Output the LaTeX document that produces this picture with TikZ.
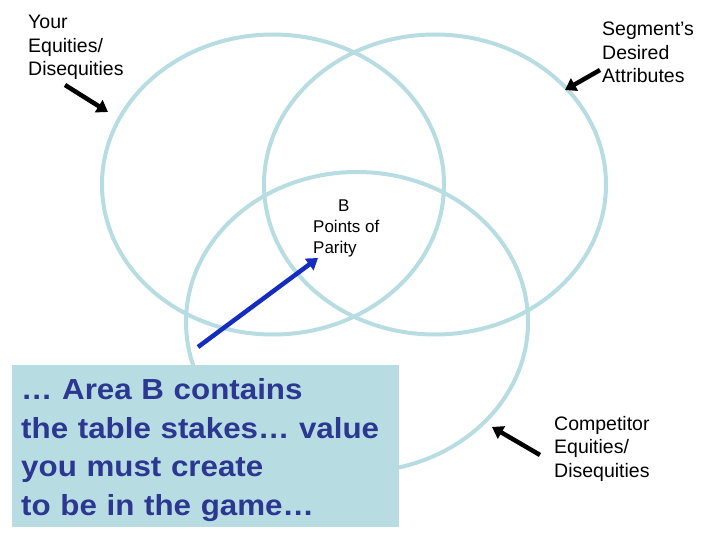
\documentclass[tikz,border=0pt]{standalone}
\usepackage{fontspec}
\setmainfont{Liberation Sans}
\newfontfamily\notefont[FakeStretch=1.08]{Liberation Sans}
\usetikzlibrary{arrows.meta, shapes.geometric}
\definecolor{vennblue}{RGB}{183,221,226}
\definecolor{notenavy}{RGB}{43,55,145}
\definecolor{pointblue}{RGB}{20,45,190}

\begin{document}
\begin{tikzpicture}[x=1pt, y=-1pt,
        venn/.style={ellipse, draw=vennblue, line width=4pt, minimum width=342pt, minimum height=300pt, inner sep=0pt},
        tagtext/.style={anchor=north west, inner sep=0pt, align=left, font=\fontsize{19.5}{23.5}\selectfont},
        pointer/.style={-{Triangle[length=11pt, width=14pt]}, line width=4.5pt},
        notebox/.style={anchor=north west, fill=vennblue, text=notenavy, align=left, text width=369pt, inner xsep=9pt, inner ysep=0pt, minimum width=387pt, minimum height=162pt, font=\notefont\bfseries\fontsize{29}{38.5}\selectfont},
    ]
        \useasboundingbox (0,0) rectangle (720,540);

        % Venn circles
        \node[venn] (yours) at (273,184.5) {};
        \node[venn] (segment) at (435,184.5) {};
        \node[venn] (rival) at (357,322) {};

        % Note box
        \node[notebox] (note) at (12,365) {\rule{0pt}{29pt}… Area B contains\\the table stakes… value\\you must create\\to be in the game…};

        % Labels
        \node[tagtext] (yourtag) at (28,15) {Your\\Equities/\\Disequities};
        \node[tagtext] (segtag) at (602,22) {Segment’s\\Desired\\Attributes};
        \node[tagtext] (rivaltag) at (554,416) {Competitor\\Equities/\\Disequities};
        \node[tagtext, font=\fontsize{17}{21}\selectfont] (paritytag) at (313,200) {\hspace*{25pt}B\\Points of\\Parity};

        % Arrow ends
        \coordinate (yourtail) at (65,85);
        \coordinate (yourtip) at (108,112);
        \coordinate (segtail) at (600,70);
        \coordinate (segtip) at (565,90);
        \coordinate (rivaltail) at (540,455);
        \coordinate (rivaltip) at (492,427);
        \coordinate (notetail) at (198,347);
        \coordinate (notetip) at (318,258);

        % Pointers
        \draw[pointer] (yourtail) -- (yourtip);
        \draw[pointer] (segtail) -- (segtip);
        \draw[pointer] (rivaltail) -- (rivaltip);
        \draw[pointer, pointblue] (notetail) -- (notetip);
    \end{tikzpicture}
\end{document}
